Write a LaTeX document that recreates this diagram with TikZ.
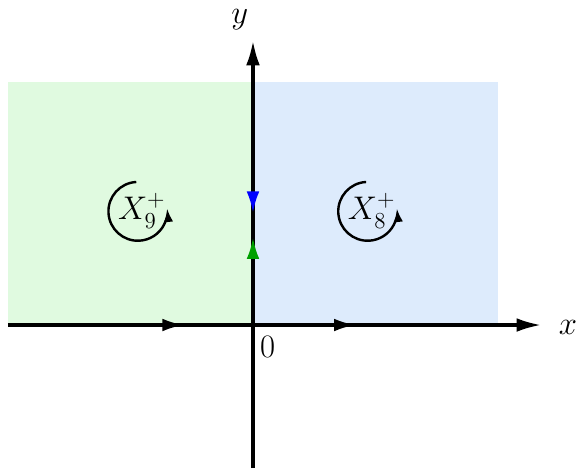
\RequirePackage{fix-cm}
\documentclass[tikz,border=0pt]{standalone}
\usepackage{amsmath,amssymb,amsfonts}
\usepackage{tikz}
\usetikzlibrary{arrows.meta,positioning,decorations.markings}

\definecolor{regiongreen}{RGB}{224,250,224}
\definecolor{regionblue}{RGB}{221,235,252}
\definecolor{markblue}{RGB}{0,0,255}
\definecolor{markgreen}{RGB}{0,160,0}

\begin{document}
\begin{tikzpicture}[
    axis/.style={line width=1.8pt, -{Latex[length=5mm,width=2.8mm]}},
    turn/.style={line width=1.4pt, -{Latex[length=2.8mm,width=1.9mm]}},
    lbl/.style={font=\fontsize{19}{21}\selectfont, inner sep=1pt},
    xmarks/.style={postaction={decorate, decoration={markings,
        mark=at position 0.33 with {\arrow{Latex[length=4.4mm,width=2.6mm]}},
        mark=at position 0.652 with {\arrow{Latex[length=4.4mm,width=2.6mm]}}}}},
    ymarks/.style={postaction={decorate, decoration={markings,
        mark=at position 0.54 with {\arrow{Latex[length=4.4mm,width=2.6mm,color=markgreen]}},
        mark=at position 0.597 with {\arrowreversed{Latex[length=4.4mm,width=2.6mm,color=markblue]}}}}}
]
\useasboundingbox (-5.163,-3.0) rectangle (6.592,6.633);

% regions
\fill[regiongreen] (-5,0) rectangle (0,4.96);
\fill[regionblue] (0,0) rectangle (5,4.96);

\coordinate (xl) at (-5,0);
\coordinate (xr) at (5.88,0);
\coordinate (yb) at (0,-2.92);
\coordinate (yt) at (0,5.8);

\draw[axis, xmarks] (xl) -- (xr);
\draw[axis, ymarks] (yb) -- (yt);

\node[lbl] (xlab) at (6.43,-0.04) {$x$};
\node[lbl] (ylab) at (-0.27,6.24) {$y$};
\node[lbl] (orig) at (0.3,-0.45) {$0$};

% orientations
\node[lbl] (x9) at (-2.27,2.33) {$X_9^+$};
\node[lbl] (x8) at (2.42,2.33) {$X_8^+$};
\draw[turn] (-2.35,2.32) ++(93:0.6) arc[start angle=93, end angle=366, radius=0.6];
\draw[turn] (2.34,2.32) ++(93:0.6) arc[start angle=93, end angle=366, radius=0.6];
\end{tikzpicture}
\end{document}
